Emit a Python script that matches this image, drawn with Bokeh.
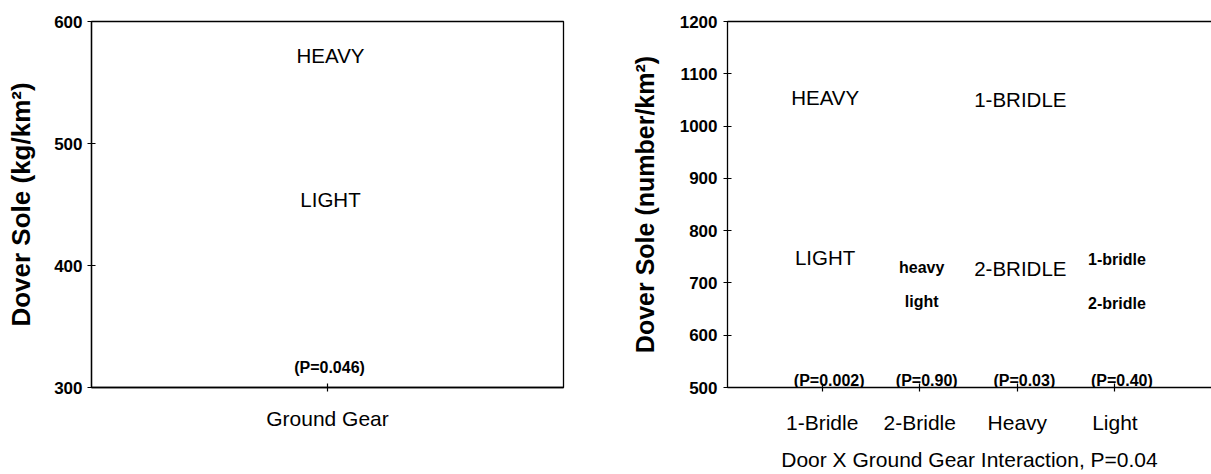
from bokeh.plotting import figure
from bokeh.models import ColumnDataSource, FixedTicker, LinearAxis, Range1d
from bokeh.layouts import row
from bokeh.embed import file_html
from bokeh.resources import INLINE
from bokeh.core.properties import value

# ---- data ----
left_categories = ["Ground Gear"]
left_labels = ["HEAVY", "LIGHT"]
left_label_x = [1, 1]
left_label_y = [572, 454]
left_p_label = ["(P=0.046)"]
left_p_y = [316]
left_yticks = [300, 400, 500, 600]

right_categories = ["1-Bridle", "2-Bridle", "Heavy", "Light"]
right_big_labels = ["HEAVY", "LIGHT", "1-BRIDLE", "2-BRIDLE"]
right_big_x = [1, 1, 3, 3]
right_big_y = [1054, 748, 1050, 727]
right_small_labels = ["heavy", "light", "1-bridle", "2-bridle"]
right_small_x = [2, 2, 4, 4]
right_small_y = [729, 665, 744, 660]
right_p_labels = ["(P=0.002)", "(P=0.90)", "(P=0.03)", "(P=0.40)"]
right_p_y = [513, 513, 513, 513]
right_yticks = [500, 600, 700, 800, 900, 1000, 1100, 1200]

FONT = "Liberation Sans"
H = 473


def style_axes(p, ytitle_size):
    for ax in p.xaxis + p.yaxis:
        ax.axis_line_color = "black"
        ax.axis_line_width = 1.3
        ax.major_tick_line_color = "black"
        ax.major_tick_line_width = 1.2
        ax.major_tick_in = 4
        ax.major_tick_out = 4
        ax.minor_tick_line_color = None
        ax.major_label_text_color = "black"
        ax.axis_label_text_color = "black"
        ax.major_label_text_font = FONT
        ax.axis_label_text_font = FONT
    for ax in p.yaxis:
        ax.major_label_text_font_size = "17px"
        ax.major_label_text_font_style = "bold"
        ax.axis_label_text_font_size = ytitle_size
        ax.axis_label_text_font_style = "bold"
    for ax in p.xaxis:
        ax.major_label_text_font_size = "21px"
        ax.axis_label_text_font_size = "21px"
        ax.axis_label_text_font_style = "normal"
    p.xgrid.visible = False
    p.ygrid.visible = False


# ---- left panel ----
p1 = figure(width=617, height=H, x_range=Range1d(0, 2), y_range=Range1d(300, 600),
            output_backend="svg", toolbar_location=None,
            min_border_left=91, min_border_right=54, min_border_top=21, min_border_bottom=86)
p1.outline_line_color = "black"
p1.outline_line_width = 1.3
p1.xaxis.ticker = FixedTicker(ticks=[1])
p1.xaxis.major_label_overrides = {1: left_categories[0]}
p1.xaxis.major_label_standoff = 15
p1.yaxis.ticker = FixedTicker(ticks=left_yticks)
p1.yaxis.axis_label = "Dover Sole (kg/km²)"
p1.yaxis.major_label_standoff = 5
p1.yaxis.axis_label_standoff = 15
style_axes(p1, "26px")

src1 = ColumnDataSource(dict(x=left_label_x, y=left_label_y, t=left_labels))
p1.text(x="x", y="y", text="t", source=src1, text_align="center", text_baseline="middle",
        text_font=value(FONT), text_font_size="20.5px", text_color="black", x_offset=3)
src1p = ColumnDataSource(dict(x=[1], y=left_p_y, t=left_p_label))
p1.text(x="x", y="y", text="t", source=src1p, text_align="center", text_baseline="middle",
        text_font=value(FONT), text_font_size="16px", text_font_style="bold",
        text_color="black", x_offset=2)

# ---- right panel ----
p2 = figure(width=594, height=H, x_range=Range1d(0.03, 4.99), y_range=Range1d(500, 1200),
            output_backend="svg", toolbar_location=None,
            min_border_left=110, min_border_right=0, min_border_top=21, min_border_bottom=86)
p2.outline_line_color = None
p2.xaxis.ticker = FixedTicker(ticks=[1, 2, 3, 4])
p2.xaxis.major_label_overrides = {i + 1: c for i, c in enumerate(right_categories)}
p2.xaxis.major_label_standoff = 19
p2.xaxis.axis_label = "Door X Ground Gear Interaction, P=0.04"
p2.xaxis.axis_label_standoff = 11
p2.yaxis.ticker = FixedTicker(ticks=right_yticks)
p2.yaxis.axis_label = "Dover Sole (number/km²)"
p2.yaxis.major_label_standoff = 6
p2.yaxis.axis_label_standoff = 18
style_axes(p2, "25px")

top_axis = LinearAxis(axis_line_color="black", axis_line_width=1.3,
                      major_tick_line_color=None, minor_tick_line_color=None,
                      major_label_text_font_size="0px", ticker=FixedTicker(ticks=[]))
p2.add_layout(top_axis, "above")

src2 = ColumnDataSource(dict(x=right_big_x, y=right_big_y, t=right_big_labels))
p2.text(x="x", y="y", text="t", source=src2, text_align="center", text_baseline="middle",
        text_font=value(FONT), text_font_size="20.5px", text_color="black", x_offset=3)
src2s = ColumnDataSource(dict(x=right_small_x, y=right_small_y, t=right_small_labels))
p2.text(x="x", y="y", text="t", source=src2s, text_align="center", text_baseline="middle",
        text_font=value(FONT), text_font_size="16px", text_font_style="bold",
        text_color="black", x_offset=2)
src2p = ColumnDataSource(dict(x=[1, 2, 3, 4], y=right_p_y, t=right_p_labels))
p2.text(x="x", y="y", text="t", source=src2p, text_align="center", text_baseline="middle",
        text_font=value(FONT), text_font_size="16px", text_font_style="bold",
        text_color="black", x_offset=7)

layout = row(p1, p2)
open("out.html", "w").write(file_html(layout, INLINE))
